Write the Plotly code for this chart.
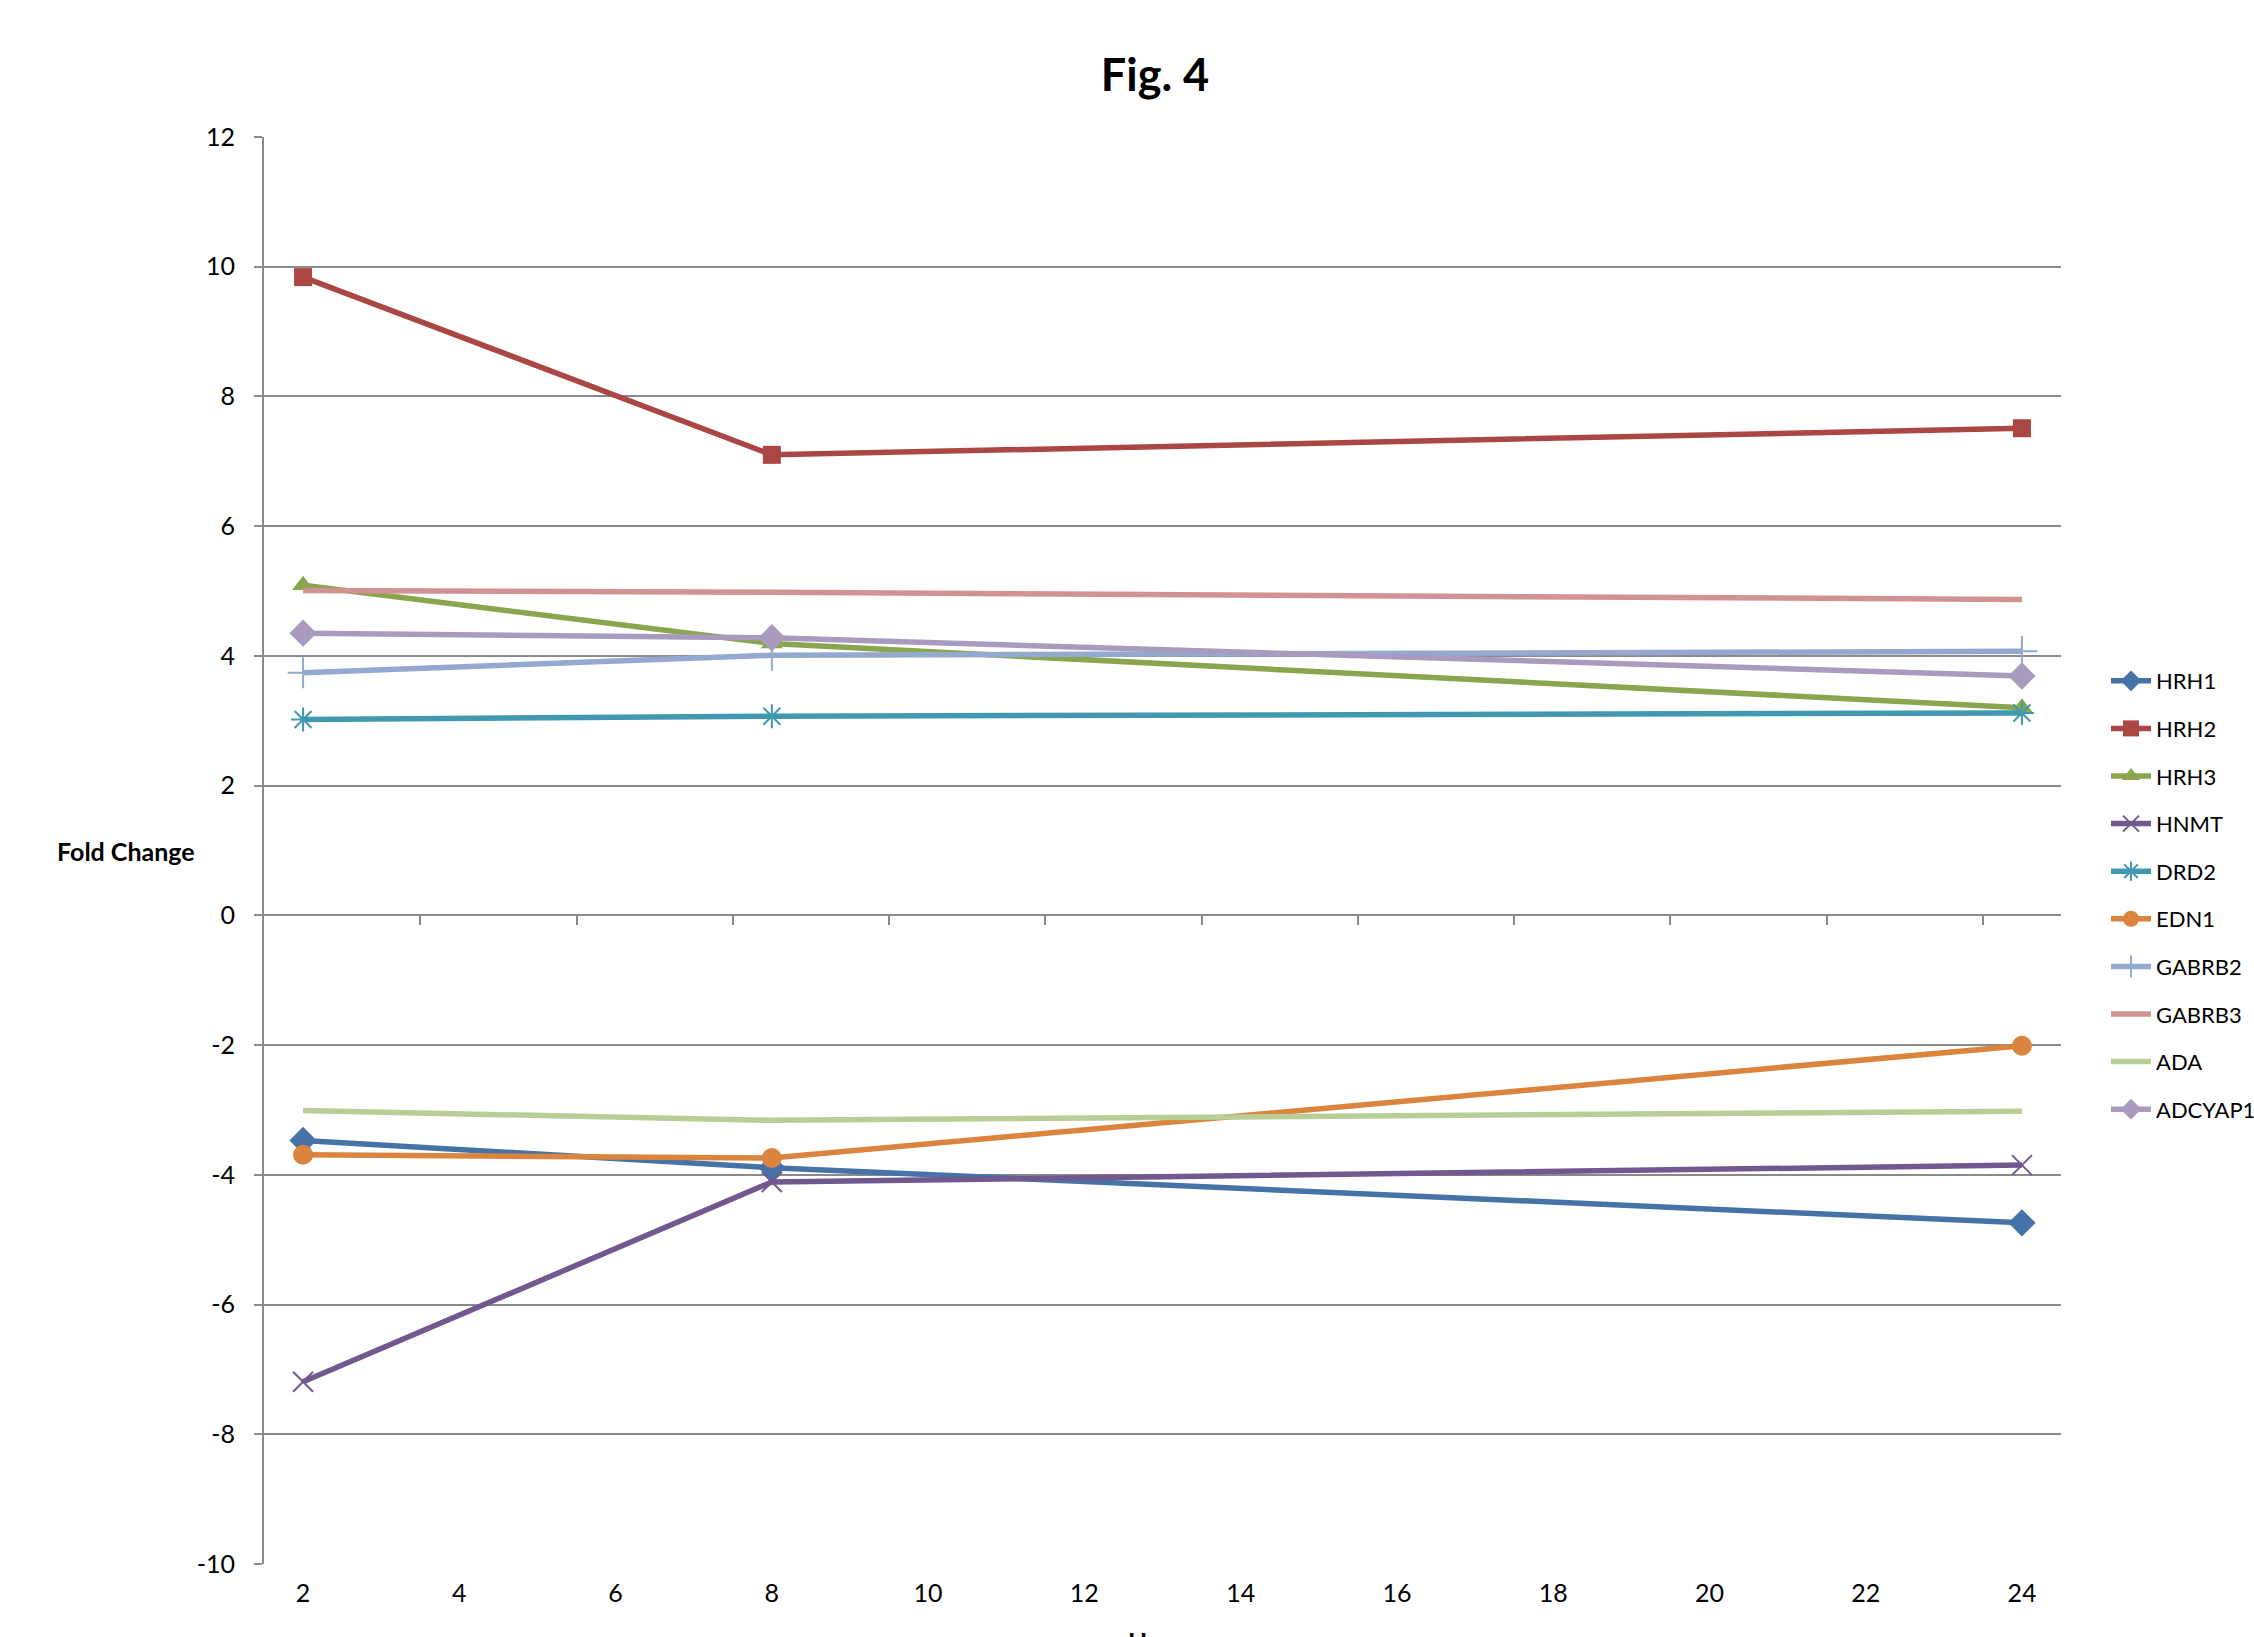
import plotly.graph_objects as go

# ---------------- data ----------------
hours = [2, 8, 24]
series_names = ["HRH1", "HRH2", "HRH3", "HNMT", "DRD2", "EDN1",
                "GABRB2", "GABRB3", "ADA", "ADCYAP1"]
HRH1 = [-3.47, -3.89, -4.74]
HRH2 = [9.84, 7.10, 7.51]
HRH3 = [5.09, 4.19, 3.20]
HNMT = [-7.19, -4.11, -3.85]
DRD2 = [3.02, 3.07, 3.12]
EDN1 = [-3.69, -3.74, -2.01]
GABRB2 = [3.74, 4.01, 4.07]
GABRB3 = [5.01, 4.98, 4.87]
ADA = [-3.01, -3.16, -3.02]
ADCYAP1 = [4.35, 4.28, 3.69]
values = [HRH1, HRH2, HRH3, HNMT, DRD2, EDN1, GABRB2, GABRB3, ADA, ADCYAP1]

x_tick_vals = [2, 4, 6, 8, 10, 12, 14, 16, 18, 20, 22, 24]
y_tick_vals = [12, 10, 8, 6, 4, 2, 0, -2, -4, -6, -8, -10]
y_tick_text = ["12", "10", "8", "6", "4", "2", "0", "-2", "-4", "-6", "-8", "-10"]
zero_axis_ticks = [3.5, 5.5, 7.5, 9.5, 11.5, 13.5, 15.5, 17.5, 19.5, 21.5, 23.5]

# ---------------- styles ----------------
colors = ["#4572A7", "#AA4643", "#89A54E", "#71588F", "#4198AF",
          "#DB843D", "#93A9CF", "#D19392", "#B9CD96", "#A99BBD"]
symbols = ["diamond", "square", "triangle-up", "x-thin-open", "asterisk-open",
           "circle", "cross-thin-open", None, None, "diamond"]
sizes = [21, 18, 19, 20, 20, 20, 22, 0, 0, 21]

W, H = 2254, 1637
L, R, T, B = 264, 2061, 137, 1564
GRID = "#8A8A8A"
FONT = "Lato"

fig = go.Figure()
n = len(series_names)
for i, name in enumerate(series_names):
    sym = symbols[i]
    if sym is None:
        mode = "lines"
        marker = None
    else:
        mode = "lines+markers"
        mline = dict(width=2, color=colors[i]) if sym.endswith("open") else dict(width=0)
        marker = dict(symbol=sym, size=sizes[i], color=colors[i], line=mline)
    # last series sits on the overlaid x-axis (same range) so that axis gets drawn
    fig.add_trace(go.Scatter(
        x=hours, y=values[i], name=name, mode=mode,
        line=dict(color=colors[i], width=5.5),
        marker=marker, legendgroup=name,
        xaxis="x2" if i == n - 1 else "x",
    ))

fig.update_layout(
    width=W, height=H,
    paper_bgcolor="white", plot_bgcolor="white",
    margin=dict(l=L, r=W - R, t=T, b=H - B, autoexpand=False),
    font=dict(family=FONT, size=25, color="#000000"),
    title=dict(text="<b>Fig. 4</b>", font=dict(family=FONT, size=45, color="#000000"),
               x=1155 / W, xanchor="center", xref="container",
               y=1 - 75 / H, yanchor="middle", yref="container"),
    xaxis=dict(range=[1.5, 24.5], tickvals=x_tick_vals, showgrid=False,
               zeroline=False, showline=False, ticks="",
               ticklabelstandoff=12, tickfont=dict(size=25)),
    xaxis2=dict(range=[1.5, 24.5], overlaying="x", anchor="free",
                position=10 / 22, side="bottom", tickvals=zero_axis_ticks,
                showticklabels=False, ticks="outside", ticklen=9, tickwidth=2,
                tickcolor=GRID, showline=False, showgrid=False, zeroline=False),
    yaxis=dict(range=[-10, 12], tickvals=y_tick_vals, ticktext=y_tick_text,
               showgrid=True, gridcolor=GRID, gridwidth=2, zeroline=False,
               showline=True, linecolor=GRID, linewidth=2,
               ticks="outside", ticklen=8, tickwidth=2, tickcolor=GRID,
               ticklabelstandoff=14, tickfont=dict(size=25)),
    legend=dict(x=2106 / W, xref="container", xanchor="left",
                y=1 - 660 / H, yref="container", yanchor="top",
                font=dict(family=FONT, size=22, color="#000000"),
                tracegroupgap=16, itemwidth=40, bgcolor="rgba(0,0,0,0)"),
    showlegend=True,
)

fig.add_annotation(text="<b>Fold Change</b>", xref="paper", yref="y",
                   x=(126 - L) / (R - L), y=1.0, xanchor="center", yanchor="middle",
                   showarrow=False, font=dict(family=FONT, size=25, color="#000000"))
fig.add_annotation(text="<b>Hours</b>", xref="paper", yref="paper",
                   x=(1162 - L) / (R - L), y=-(1624 - B) / (B - T),
                   xanchor="center", yanchor="top",
                   showarrow=False, font=dict(family=FONT, size=25, color="#000000"))

fig.write_html("out.html", config={"displayModeBar": False},
               post_script="document.body.style.margin='0';")
